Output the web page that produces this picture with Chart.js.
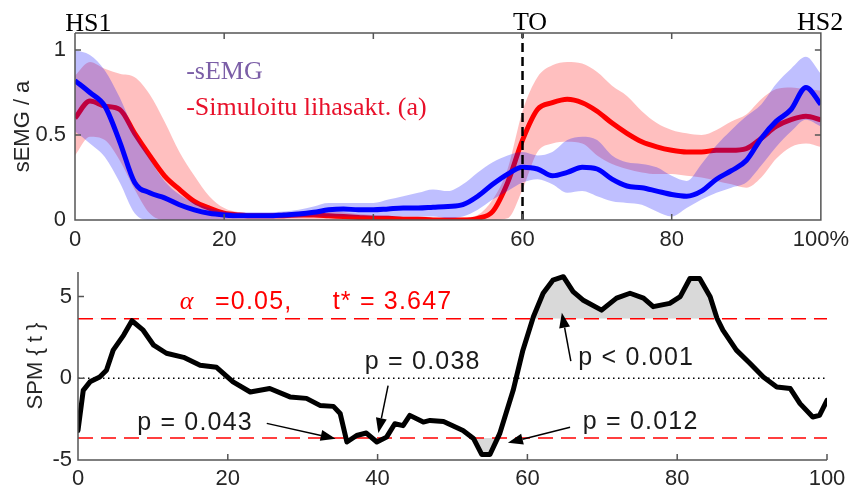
<!DOCTYPE html>
<html>
<head>
<meta charset="utf-8">
<script src="https://cdn.jsdelivr.net/npm/chart.js@4.4.0/dist/chart.umd.min.js"></script>
<style>
  html, body { margin: 0; padding: 0; background: #fff; }
  #wrap { position: relative; width: 856px; height: 493px; }
  #top { position: absolute; left: 0; top: 0; }
  #bottom { position: absolute; left: 0; top: 250px; }
</style>
</head>
<body>
<div id="wrap">
  <canvas id="top" width="856" height="250"></canvas>
  <canvas id="bottom" width="856" height="243"></canvas>
</div>
<script>
// ---- top panel: gait cycle (%) ----
const xs = [0,2,4,6,8,10,12,14,16,18,20,22,24,26,28,30,32,34,36,38,40,42,44,46,48,50,
            52,54,56,58,60,62,64,66,68,70,72,74,76,78,80,82,84,86,88,90,92,94,96,98,100];

// measured sEMG (mean and +/- band)
const emgMean  = [0.82,0.75,0.67,0.46,0.22,0.16,0.13,0.09,0.06,0.04,
                  0.03,0.025,0.025,0.025,0.03,0.035,0.045,0.06,0.065,0.06,
                  0.06,0.065,0.07,0.07,0.075,0.08,0.09,0.14,0.21,0.27,
                  0.31,0.30,0.26,0.28,0.31,0.30,0.24,0.20,0.19,0.17,
                  0.15,0.14,0.17,0.24,0.29,0.35,0.48,0.58,0.65,0.78,
                  0.68];
const emgUpper = [1.00,0.97,0.88,0.72,0.52,0.36,0.23,0.15,0.10,0.07,
                  0.05,0.045,0.045,0.045,0.05,0.06,0.08,0.10,0.10,0.10,
                  0.10,0.12,0.14,0.16,0.18,0.17,0.21,0.28,0.34,0.38,
                  0.40,0.38,0.40,0.47,0.49,0.47,0.38,0.34,0.33,0.31,
                  0.26,0.23,0.33,0.44,0.53,0.61,0.68,0.80,0.89,0.96,
                  0.86];
const emgLower = [0.52,0.45,0.37,0.22,0.04,0,0,0,0,0,
                  0.005,0.01,0.01,0.01,0.01,0.015,0.02,0.02,0.02,0.02,
                  0.02,0.02,0.02,0.02,0.02,0.01,0.02,0.06,0.12,0.17,
                  0.22,0.24,0.21,0.16,0.17,0.14,0.11,0.10,0.09,0.05,
                  0.02,0.07,0.12,0.16,0.19,0.22,0.32,0.43,0.52,0.59,
                  0.55];

// simulated muscle activation (a)
const simMean  = [0.60,0.70,0.67,0.65,0.51,0.38,0.26,0.18,0.11,0.07,
                  0.04,0.03,0.025,0.025,0.025,0.03,0.03,0.025,0.02,0.015,
                  0.01,0.01,0.005,0.005,0,0,0,0.01,0.05,0.22,
                  0.47,0.65,0.69,0.71,0.69,0.64,0.57,0.51,0.46,0.43,
                  0.41,0.40,0.40,0.41,0.41,0.42,0.48,0.55,0.59,0.61,
                  0.59];
const simUpper = [0.85,0.93,0.89,0.86,0.84,0.74,0.58,0.40,0.26,0.14,
                  0.07,0.045,0.04,0.04,0.045,0.05,0.055,0.055,0.045,0.035,
                  0.03,0.025,0.02,0.02,0.015,0.01,0.015,0.03,0.12,0.30,
                  0.64,0.84,0.91,0.93,0.92,0.87,0.79,0.73,0.64,0.57,
                  0.53,0.51,0.50,0.53,0.58,0.62,0.71,0.77,0.78,0.77,
                  0.76];
const simLower = [0.38,0.49,0.47,0.35,0.18,0.04,0,0,0,0,
                  0,0,0,0,0,0,0,0,0,0,
                  0,0,0,0,0,0,0,0,0,0.01,
                  0.18,0.40,0.45,0.46,0.45,0.38,0.33,0.30,0.28,0.27,
                  0.27,0.26,0.25,0.23,0.21,0.19,0.25,0.36,0.43,0.45,
                  0.43];

const toeOff = 60;
const topXTicks = [0, 20, 40, 60, 80, 100];
const topYTicks = [0, 0.5, 1];

// ---- bottom panel: SPM{t} ----
const spmX = [0,0.7,1.6,2.9,3.8,4.7,6.1,7.2,8.7,10.1,11.8,14.1,16.3,18.5,20.7,23,25.6,28.3,30.5,32.3,
              34.1,35,35.9,37.2,38.5,39.9,41.2,42.3,43.4,44.3,46.1,47,48.8,51.4,52.8,53.9,55,56.3,58.1,59.4,
              60.8,62.1,63.4,64.8,66.1,67.4,69.9,71.9,73.7,75.5,76.8,79,80.4,81.7,83,84.4,85.3,86.1,87.9,89.7,
              91.5,93.3,95.1,96.4,98.1,99,100];
const spmT = [-3.19,-0.74,-0.22,0.08,0.49,1.72,2.64,3.52,2.94,2.02,1.53,1.28,0.8,0.67,-0.22,-0.84,-0.63,-1.14,-1.23,-1.66,
              -1.72,-2.15,-3.9,-3.5,-3.35,-3.9,-3.6,-2.78,-2.9,-2.27,-2.68,-2.58,-2.65,-3.19,-3.68,-4.66,-4.66,-3.39,-0.74,1.72,
              3.76,5.2,6.0,6.21,5.3,4.79,4.17,4.9,5.2,4.9,4.38,4.58,4.99,6.1,6.1,4.99,3.68,2.94,1.72,0.92,
              0.08,-0.53,-0.63,-1.55,-2.37,-2.27,-1.35];
const tCrit = 3.647;
const spmXTicks = [0, 20, 40, 60, 80, 100];
const spmYTicks = [-5, 0, 5];

// annotations (data coordinates)
const spmNotes = [
  { text: 'p = 0.043', x: 7.9,  y: -2.76 },
  { text: 'p = 0.038', x: 38.3, y: 0.98 },
  { text: 'p < 0.001', x: 66.8, y: 1.23 },
  { text: 'p = 0.012', x: 67.4, y: -2.7 }
];
const spmArrows = [
  [25.2, -2.76, 34.4, -3.7],
  [41.4, -0.45, 40.1, -3.35],
  [65.8, 1.05, 64.6, 4.0],
  [65.7, -3.0, 57.4, -3.95]
];

const axisColor = '#555555';
const labelColor = '#262626';
const sansFont = '"Liberation Sans", Arial, sans-serif';
const serifFont = '"Liberation Serif", "Times New Roman", serif';

const pts = (xv, yv) => xv.map((x, i) => ({ x: x, y: yv[i] }));

// box / L-shaped axes with ticks pointing inward (MATLAB look)
const innerAxes = {
  id: 'innerAxes',
  afterDatasetsDraw(chart, args, opts) {
    const { ctx, chartArea: a, scales: { x, y } } = chart;
    const len = 6;
    ctx.save();
    ctx.strokeStyle = axisColor;
    ctx.lineWidth = 1.5;
    ctx.beginPath();
    ctx.moveTo(a.left, a.top);
    ctx.lineTo(a.left, a.bottom);
    ctx.lineTo(a.right, a.bottom);
    if (opts.box) {
      ctx.lineTo(a.right, a.top);
      ctx.lineTo(a.left, a.top);
    }
    x.ticks.forEach(t => {
      const px = x.getPixelForValue(t.value);
      ctx.moveTo(px, a.bottom); ctx.lineTo(px, a.bottom - len);
      if (opts.box) { ctx.moveTo(px, a.top); ctx.lineTo(px, a.top + len); }
    });
    y.ticks.forEach(t => {
      const py = y.getPixelForValue(t.value);
      ctx.moveTo(a.left, py); ctx.lineTo(a.left + len, py);
      if (opts.box) { ctx.moveTo(a.right, py); ctx.lineTo(a.right - len, py); }
    });
    ctx.stroke();
    ctx.restore();
  }
};

const topLabels = {
  id: 'topLabels',
  afterDraw(chart) {
    const { ctx, chartArea: a, scales: { x, y } } = chart;
    ctx.save();
    ctx.textBaseline = 'alphabetic';
    ctx.fillStyle = '#000';
    ctx.font = '26px ' + serifFont;
    ctx.textAlign = 'left';
    ctx.fillText('HS1', x.getPixelForValue(-1.3), a.top - 2);
    ctx.textAlign = 'center';
    ctx.fillText('TO', x.getPixelForValue(61), a.top - 3);
    ctx.textAlign = 'right';
    ctx.fillText('HS2', x.getPixelForValue(103), a.top - 3);
    ctx.textAlign = 'left';
    ctx.fillStyle = '#7b5ea7';
    ctx.fillText('-sEMG', x.getPixelForValue(14.9), y.getPixelForValue(0.83));
    ctx.fillStyle = '#e8102a';
    ctx.fillText('-Simuloitu lihasakt. (a)', x.getPixelForValue(14.9), y.getPixelForValue(0.62));
    ctx.restore();
  }
};

const spmAnnotations = {
  id: 'spmAnnotations',
  afterDraw(chart) {
    const { ctx, scales: { x, y } } = chart;
    ctx.save();
    // threshold label
    ctx.fillStyle = '#ff0000';
    ctx.textBaseline = 'middle';
    ctx.textAlign = 'left';
    const ty = y.getPixelForValue(4.66);
    ctx.font = 'italic 26px ' + serifFont;
    ctx.fillText('\u03b1', x.getPixelForValue(13.6), ty);
    ctx.font = '25px ' + sansFont;
    ctx.letterSpacing = '1.2px';
    ctx.fillText('=0.05,', x.getPixelForValue(18.3), ty);
    ctx.fillText('t* = 3.647', x.getPixelForValue(34.0), ty);
    // p-values
    ctx.fillStyle = '#1a1a1a';
    spmNotes.forEach(n => ctx.fillText(n.text, x.getPixelForValue(n.x), y.getPixelForValue(n.y)));
    ctx.letterSpacing = '0px';
    // arrows
    ctx.strokeStyle = '#000';
    ctx.fillStyle = '#000';
    ctx.lineWidth = 1.5;
    spmArrows.forEach(([x0, y0, x1, y1]) => {
      const ax = x.getPixelForValue(x0), ay = y.getPixelForValue(y0);
      const bx = x.getPixelForValue(x1), by = y.getPixelForValue(y1);
      const ang = Math.atan2(by - ay, bx - ax);
      const hl = 15, hw = 5.5;
      const cx = bx - hl * Math.cos(ang), cy = by - hl * Math.sin(ang);
      ctx.beginPath();
      ctx.moveTo(ax, ay); ctx.lineTo(cx, cy);
      ctx.stroke();
      ctx.beginPath();
      ctx.moveTo(bx, by);
      ctx.lineTo(cx + hw * Math.sin(ang), cy - hw * Math.cos(ang));
      ctx.lineTo(cx - hw * Math.sin(ang), cy + hw * Math.cos(ang));
      ctx.closePath();
      ctx.fill();
    });
    ctx.restore();
  }
};

const tickFont = { family: sansFont, size: 22 };

new Chart(document.getElementById('top'), {
  type: 'line',
  data: {
    datasets: [
      { data: [{ x: toeOff, y: 0 }, { x: toeOff, y: 1.1 }], borderColor: '#000', borderWidth: 2.5,
        borderDash: [9, 5], pointRadius: 0 },
      { data: pts(xs, emgMean), borderColor: '#0000ff', borderWidth: 5, pointRadius: 0,
        cubicInterpolationMode: 'monotone' },
      { data: pts(xs, emgUpper), borderWidth: 0, pointRadius: 0, fill: '+1',
        backgroundColor: 'rgba(0,0,255,0.25)', cubicInterpolationMode: 'monotone' },
      { data: pts(xs, emgLower), borderWidth: 0, pointRadius: 0, cubicInterpolationMode: 'monotone' },
      { data: pts(xs, simMean), borderColor: '#ff0000', borderWidth: 5, pointRadius: 0,
        cubicInterpolationMode: 'monotone' },
      { data: pts(xs, simUpper), borderWidth: 0, pointRadius: 0, fill: '+1',
        backgroundColor: 'rgba(255,0,0,0.25)', cubicInterpolationMode: 'monotone' },
      { data: pts(xs, simLower), borderWidth: 0, pointRadius: 0, cubicInterpolationMode: 'monotone' }
    ]
  },
  options: {
    responsive: false,
    animation: false,
    layout: { padding: { top: 33, right: 31, left: 0, bottom: 0 } },
    plugins: { legend: { display: false }, tooltip: { enabled: false }, innerAxes: { box: true } },
    scales: {
      x: {
        type: 'linear', min: 0, max: 100,
        afterBuildTicks: s => { s.ticks = topXTicks.map(v => ({ value: v })); },
        afterFit: s => { s.height = 30; },
        grid: { display: false, drawTicks: false }, border: { display: false },
        ticks: { font: tickFont, color: labelColor, padding: 7, maxRotation: 0,
                 callback: v => (v === 100 ? '100%' : String(v)) }
      },
      y: {
        min: 0, max: 1.1,
        afterBuildTicks: s => { s.ticks = topYTicks.map(v => ({ value: v })); },
        afterFit: s => { s.width = 75; },
        grid: { display: false, drawTicks: false }, border: { display: false },
        ticks: { font: tickFont, color: labelColor, padding: 9, callback: v => String(v) },
        title: { display: true, text: 'sEMG / a', font: { family: sansFont, size: 22 },
                 color: labelColor, padding: { top: 10, bottom: 0 } }
      }
    }
  },
  plugins: [innerAxes, topLabels]
});

new Chart(document.getElementById('bottom'), {
  type: 'line',
  data: {
    datasets: [
      { data: pts(spmX, spmT), borderColor: '#000', borderWidth: 5, pointRadius: 0,
        borderJoinStyle: 'round', borderCapStyle: 'round' },
      { data: [{ x: 0, y: tCrit }, { x: 100, y: tCrit }], borderColor: '#ff0000', borderWidth: 1.5,
        borderDash: [15, 8], pointRadius: 0 },
      { data: [{ x: 0, y: -tCrit }, { x: 100, y: -tCrit }], borderColor: '#ff0000', borderWidth: 1.5,
        borderDash: [15, 8], pointRadius: 0 },
      { data: [{ x: 0, y: 0 }, { x: 100, y: 0 }], borderColor: '#000', borderWidth: 1.5,
        borderDash: [1.5, 3.5], pointRadius: 0 },
      { data: pts(spmX, spmT), borderWidth: 0, pointRadius: 0,
        fill: { target: { value: tCrit }, above: '#d9d9d9', below: 'rgba(0,0,0,0)' } },
      { data: pts(spmX, spmT), borderWidth: 0, pointRadius: 0,
        fill: { target: { value: -tCrit }, above: 'rgba(0,0,0,0)', below: '#d9d9d9' } }
    ]
  },
  options: {
    responsive: false,
    animation: false,
    layout: { padding: { top: 22, right: 29, left: 0, bottom: 0 } },
    plugins: { legend: { display: false }, tooltip: { enabled: false }, innerAxes: { box: false } },
    scales: {
      x: {
        type: 'linear', min: 0, max: 100,
        afterBuildTicks: s => { s.ticks = spmXTicks.map(v => ({ value: v })); },
        afterFit: s => { s.height = 33; },
        grid: { display: false, drawTicks: false }, border: { display: false },
        ticks: { font: tickFont, color: labelColor, padding: 6, maxRotation: 0 }
      },
      y: {
        min: -5, max: 6.5,
        afterBuildTicks: s => { s.ticks = spmYTicks.map(v => ({ value: v })); },
        afterFit: s => { s.width = 78; },
        grid: { display: false, drawTicks: false }, border: { display: false },
        ticks: { font: tickFont, color: labelColor, padding: 6 },
        title: { display: true, text: 'SPM { t }', font: { family: sansFont, size: 22 },
                 color: labelColor, padding: { top: 23, bottom: 0 } }
      }
    }
  },
  plugins: [innerAxes, spmAnnotations]
});
</script>
</body>
</html>
